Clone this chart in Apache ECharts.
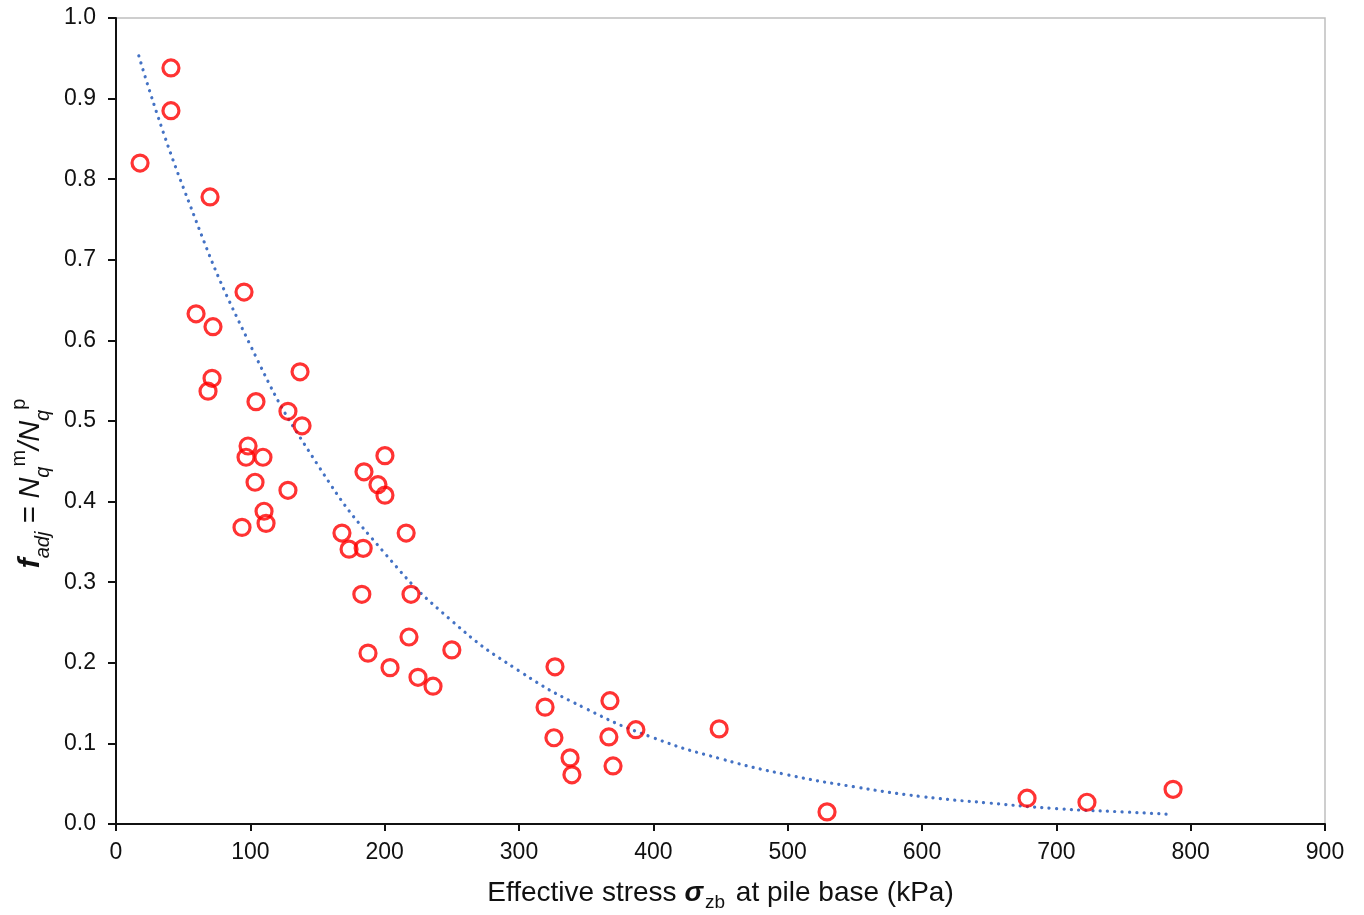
<!DOCTYPE html>
<html><head><meta charset="utf-8">
<script src="https://cdn.jsdelivr.net/npm/echarts@6/dist/echarts.min.js"></script>
<style>html,body{margin:0;padding:0;background:#fff}#c{width:1364px;height:915px}</style>
</head><body><div id="c"></div>
<script>
// measured points: effective stress (kPa)
var stressX = [17.9,40.9,40.9,70,95.3,59.6,72.2,71.5,68.5,137,104.2,128,138.5,98.3,96.8,109.4,103.5,128,110.2,111.7,93.8,200.2,184.6,195,200.2,168.2,173.5,184,216,183,219.6,218.1,187.6,204,224.8,236,250,326.8,319.4,326,338,339.4,367.7,366.9,370,387,449,529.3,678.2,722.8,786.9];
// f_adj values
var fadjY = [0.820,0.938,0.885,0.778,0.660,0.633,0.617,0.553,0.537,0.561,0.524,0.512,0.494,0.469,0.455,0.455,0.424,0.414,0.388,0.373,0.368,0.457,0.437,0.421,0.408,0.361,0.341,0.342,0.361,0.285,0.285,0.232,0.212,0.194,0.182,0.171,0.216,0.195,0.145,0.107,0.082,0.061,0.153,0.108,0.072,0.117,0.118,0.015,0.032,0.027,0.043];
// dotted trend line
var trendX = [17,50,100,150,200,250,300,350,400,450,500,550,600,650,700,750,785];
var trendY = [0.953,0.790,0.594,0.446,0.336,0.252,0.190,0.143,0.107,0.081,0.061,0.046,0.034,0.026,0.019,0.015,0.012];
var xTicks = [0,100,200,300,400,500,600,700,800,900];
var yTicks = [0.0,0.1,0.2,0.3,0.4,0.5,0.6,0.7,0.8,0.9,1.0];

var pts = stressX.map(function(x,i){return [x,fadjY[i]];});
var trend = trendX.map(function(x,i){return [x,trendY[i]];});
var font = '"Liberation Sans", Arial, sans-serif';
var ink = '#111111';
var chart = echarts.init(document.getElementById('c'), null, {renderer:'canvas'});
chart.setOption({
  animation:false,
  grid:{left:116,right:39,top:18,bottom:91,outerBoundsMode:'none',containLabel:false,show:true,borderColor:'#bfbfbf',borderWidth:1.5,backgroundColor:'#fff'},
  xAxis:{type:'value',min:xTicks[0],max:xTicks[xTicks.length-1],interval:100,
    axisLine:{show:true,onZero:false,lineStyle:{color:ink,width:2}},
    axisTick:{show:true,inside:false,length:7,lineStyle:{color:ink,width:2}},
    axisLabel:{color:ink,fontSize:23,fontFamily:font,margin:17},
    splitLine:{show:false},
    name:'{t|Effective stress }{s|σ}{sub|zb}{t| at pile base (kPa)}',
    nameLocation:'middle',nameGap:50,
    nameTextStyle:{rich:{
      t:{fontSize:28,fontFamily:font,color:ink,lineHeight:38},
      s:{fontSize:28,fontFamily:font,fontStyle:'italic',fontWeight:'bold',color:ink,lineHeight:38},
      sub:{fontSize:19,fontFamily:font,color:ink,verticalAlign:'bottom',lineHeight:38,padding:[0,3,0,2]}
    }}
  },
  yAxis:{type:'value',min:yTicks[0],max:yTicks[yTicks.length-1],interval:0.1,
    axisLine:{show:true,onZero:false,lineStyle:{color:ink,width:2}},
    axisTick:{show:true,inside:false,length:8,lineStyle:{color:ink,width:2}},
    axisLabel:{color:ink,fontSize:23,fontFamily:font,margin:20,formatter:function(v){return v.toFixed(1);}},
    splitLine:{show:false},
    name:'{fb|f}{sub|adj}{i| = N}{sub|q}{sup|m}{i|/N}{sub|q}{sup|p}',
    nameLocation:'middle',nameGap:62,nameRotate:90,
    nameTextStyle:{padding:[0,125,0,0],rich:{
      fb:{fontSize:30,fontFamily:font,fontStyle:'italic',fontWeight:'bold',color:ink,lineHeight:44},
      i:{fontSize:29,fontFamily:font,fontStyle:'italic',color:ink,lineHeight:44},
      sub:{fontSize:20,fontFamily:font,fontStyle:'italic',color:ink,verticalAlign:'bottom',lineHeight:44},
      sup:{fontSize:20,fontFamily:font,color:ink,verticalAlign:'top',lineHeight:44}
    }}
  },
  series:[
    {type:'line',data:trend,smooth:true,showSymbol:false,z:2,
     lineStyle:{color:'#4472c4',width:3.2,type:[0.1,7.2],cap:'round'}},
    {type:'scatter',data:pts,symbol:'circle',symbolSize:16,z:3,
     itemStyle:{color:'rgba(255,255,255,0)',borderColor:'#ff0000',borderWidth:3.2}}
  ]
});
</script></body></html>
